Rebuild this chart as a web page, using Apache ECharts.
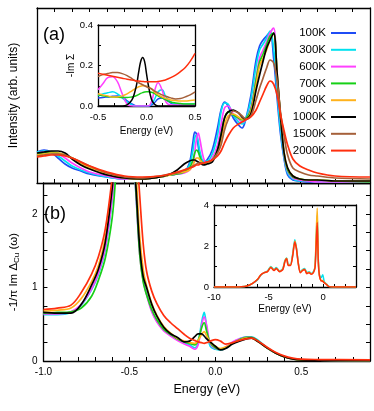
<!DOCTYPE html>
<html><head><meta charset="utf-8">
<script src="https://cdn.jsdelivr.net/npm/echarts@6/dist/echarts.min.js"></script>
<style>html,body{margin:0;padding:0;background:#fff}#c{width:374px;height:411px}</style>
</head><body><div id="c"></div>
<script>
// ---------- DATA ----------
const temps = ['100K','300K','600K','700K','900K','1000K','1500K','2000K'];

// Panel (a): spectral intensity (arb. units) vs energy (eV)
const topEnergy = [-1.0,-0.96,-0.92,-0.88,-0.84,-0.80,-0.75,-0.70,-0.60,-0.50,-0.40,-0.30,-0.24,-0.20,-0.16,-0.13,-0.11,-0.10,-0.09,-0.08,-0.07,-0.05,-0.03,0.0,0.03,0.05,0.07,0.09,0.12,0.15,0.17,0.19,0.22,0.25,0.27,0.29,0.31,0.33,0.35,0.37,0.39,0.41,0.43,0.46,0.50,0.55,0.60,0.70,0.90];
const top100K  = [31,33,31,25,19,15,12,9,6,4, 4,6,8,9,11,20,41,51,49,37, 27,21,23,33,55,73,81,77,65,58, 55,63,87,123,137,143,147,151,125,85, 48,24,8,3,2,1,1,1,1];
const top300K  = [31,32,31,27,22,17,13,10,6,4, 4,6,8,9,11,18,33,45,48,41, 31,22,22,29,48,71,80,79,68,61, 59,63,83,117,133,139,145,152,135,92, 52,26,10,4,2,2,1,1,1];
const top600K  = [30,31,31,29,25,20,15,11,7,4, 4,6,8,9,10,13,18,31,44,50, 43,25,20,25,38,58,75,77,69,64, 61,63,75,105,125,133,141,150,155,105, 62,28,12,5,3,2,1,1,1];
const top700K  = [29,30,31,30,28,25,20,15,9,5, 4,6,8,9,11,15,23,30,33,31, 26,19,20,23,33,48,65,71,68,65, 63,64,73,103,121,129,138,147,150,108, 64,29,13,6,4,3,3,2,1];
const top900K  = [28,29,30,30,28,25,20,15,9,5, 4,6,8,10,11,13,18,22,25,25, 23,20,20,23,31,43,58,67,69,66, 64,64,71,98,117,125,133,143,149,110, 66,31,15,7,4,3,3,2,2];
const top1000K = [30,31,32,32,30,24,18,14,8,5, 4,6,9,13,19,22,23,23,22,21, 20,18,19,21,33,48,65,71,73,70, 66,64,69,93,108,122,135,143,150,110, 66,30,15,7,4,3,3,2,2];
const top1500K = [27,28,29,29,28,25,21,17,10,6, 5,7,9,10,13,15,17,18,19,20, 20,20,21,23,30,38,53,63,72,70, 67,64,67,83,95,105,115,123,120,102, 70,47,28,15,11,8,7,5,4];
const top2000K = [26,27,28,28,27,25,21,17,11,7, 6,7,9,11,13,15,16,17,18,18, 19,20,21,23,27,32,40,47,55,59, 61,63,66,73,81,89,97,102,99,88, 68,52,38,24,17,13,10,7,6];

// Panel (b): -1/pi Im Delta_Cu(omega)
const botEnergy = [-1.0,-0.92,-0.84,-0.78,-0.72,-0.68,-0.64,-0.60,-0.58,-0.56,-0.54,-0.52,-0.50,-0.48,-0.46,-0.44,-0.42,-0.40,-0.37,-0.34,-0.30,-0.26,-0.22,-0.18,-0.15,-0.12,-0.10,-0.08,-0.065,-0.05,-0.03,0.0,0.03,0.06,0.10,0.14,0.18,0.21,0.25,0.30,0.35,0.40,0.45,0.50,0.60,0.90];
const bot300K  = [0.63,0.63,0.66,0.76,0.97,1.18,1.52,2.2,2.8,3.4, 4.2,4.5,4.0,3.0,2.2,1.5,1.12,0.92,0.68,0.54, 0.42,0.35,0.30,0.25,0.22,0.18,0.25,0.52,0.66,0.45, 0.20,0.16,0.15,0.18,0.25,0.30,0.33,0.33,0.28,0.18, 0.11,0.06,0.03,0.015,0.01,0.005];
const bot600K  = [0.64,0.64,0.67,0.77,0.98,1.20,1.55,2.22,2.8,3.4, 4.2,4.5,4.0,3.0,2.2,1.45,1.1,0.9,0.67,0.53, 0.41,0.34,0.28,0.23,0.20,0.16,0.22,0.48,0.60,0.48, 0.24,0.17,0.16,0.19,0.26,0.30,0.32,0.32,0.27,0.18, 0.11,0.06,0.03,0.015,0.01,0.005];
const bot700K  = [0.65,0.66,0.67,0.72,0.88,1.10,1.40,1.95,2.5,3.2, 4.0,4.4,4.0,3.0,2.25,1.45,1.08,0.9,0.70,0.56, 0.43,0.36,0.30,0.26,0.24,0.22,0.28,0.45,0.52,0.40, 0.25,0.18,0.16,0.18,0.24,0.29,0.32,0.32,0.27,0.18, 0.11,0.06,0.03,0.015,0.01,0.005];
const bot900K  = [0.68,0.69,0.72,0.85,1.08,1.30,1.68,2.38,2.9,3.5, 4.1,4.4,4.0,3.1,2.5,1.7,1.25,1.02,0.78,0.62, 0.47,0.38,0.31,0.27,0.25,0.24,0.28,0.36,0.40,0.34, 0.26,0.20,0.17,0.19,0.24,0.28,0.31,0.31,0.26,0.18, 0.11,0.06,0.03,0.015,0.01,0.005];
const bot1000K = [0.66,0.65,0.65,0.77,1.03,1.25,1.62,2.35,2.9,3.5, 4.2,4.5,4.0,3.0,2.3,1.55,1.15,1.0,0.77,0.61, 0.46,0.37,0.32,0.26,0.27,0.33,0.37,0.37,0.34,0.30, 0.26,0.20,0.15,0.17,0.23,0.27,0.30,0.31,0.26,0.18, 0.11,0.06,0.03,0.015,0.01,0.005];
const bot2000K = [0.70,0.72,0.76,0.93,1.18,1.42,1.80,2.5,3.0,3.5, 4.0,4.3,4.0,3.3,2.9,2.25,1.6,1.22,0.95,0.78, 0.62,0.52,0.44,0.36,0.31,0.28,0.26,0.25,0.24,0.25, 0.27,0.29,0.27,0.23,0.25,0.28,0.30,0.31,0.27,0.19, 0.12,0.07,0.04,0.025,0.02,0.015];

// Inset of (a): -Im Sigma
const sigEnergy = [-0.5,-0.45,-0.4,-0.35,-0.3,-0.25,-0.2,-0.15,-0.12,-0.1,-0.08,-0.06,-0.04,-0.02,0,0.02,0.05,0.08,0.12,0.16,0.2,0.25,0.3,0.35,0.4,0.45,0.5];
const sig100K  = [0.04,0.042,0.045,0.048,0.05,0.045,0.025,0.01,0.003,0,0,0,0,0,0,0,0.005,0.015,0.035,0.04,0.03,0.015,0.008,0.005,0.005,0.005,0.005];
const sig300K  = [0.05,0.06,0.065,0.07,0.06,0.04,0.02,0.005,0,0,0,0,0,0,0,0,0.01,0.03,0.07,0.08,0.045,0.02,0.01,0.01,0.01,0.01,0.01];
const sig600K  = [0.08,0.11,0.14,0.145,0.12,0.06,0.01,0,0,0,0,0,0,0,0,0,0.02,0.07,0.115,0.08,0.02,0.005,0.005,0.005,0.005,0.005,0.005];
const sig700K  = [0.055,0.05,0.047,0.045,0.043,0.042,0.042,0.045,0.048,0.052,0.057,0.062,0.066,0.069,0.07,0.07,0.068,0.063,0.05,0.04,0.03,0.02,0.015,0.012,0.01,0.01,0.01];
const sig900K  = [0.06,0.055,0.05,0.045,0.045,0.05,0.06,0.075,0.085,0.09,0.095,0.098,0.1,0.1,0.098,0.094,0.085,0.07,0.055,0.045,0.037,0.03,0.027,0.025,0.025,0.027,0.03];
const sig1000K = [0,0,0,0,0,0,0.005,0.03,0.07,0.11,0.17,0.22,0.24,0.22,0.16,0.1,0.035,0.01,0,0,0,0,0,0,0,0,0];
const sig1500K = [0.145,0.155,0.16,0.165,0.165,0.16,0.15,0.135,0.125,0.12,0.115,0.11,0.105,0.1,0.095,0.09,0.085,0.075,0.065,0.055,0.048,0.04,0.035,0.037,0.045,0.055,0.07];
const sig2000K = [0.162,0.157,0.152,0.147,0.142,0.137,0.132,0.128,0.126,0.124,0.123,0.122,0.121,0.12,0.12,0.12,0.12,0.12,0.121,0.125,0.13,0.14,0.153,0.17,0.19,0.22,0.26];

// Inset of (b): wide-range hybridization
const wideEnergy = [-10,-8,-7.5,-7,-6.5,-6,-5.7,-5.4,-5.1,-4.8,-4.5,-4.3,-4.0,-3.7,-3.5,-3.35,-3.2,-3.0,-2.8,-2.6,-2.45,-2.3,-2.1,-1.9,-1.7,-1.5,-1.3,-1.1,-0.9,-0.75,-0.65,-0.55,-0.45,-0.35,-0.2,-0.05,0.1,0.3,0.5,1,3];
const wide300K  = [0,0,0.01,0.05,0.16,0.36,0.58,0.7,0.78,1.0, 0.85,0.95,0.78,0.9,1.3,1.42,1.1,1.1,1.6,2.3, 1.9,1.25,0.75,0.85,0.9,0.7,0.75,0.66,0.75,1.0, 2.3,3.5,1.35,0.6,0.45,0.6,0.25,0.15,0.03,0,0];
const wide900K  = [0,0,0.01,0.05,0.17,0.38,0.6,0.7,0.76,0.97, 0.82,0.92,0.76,0.87,1.28,1.4,1.07,1.07,1.55,2.25, 1.88,1.22,0.72,0.82,0.87,0.67,0.72,0.64,0.72,1.0, 2.5,3.85,1.3,0.58,0.32,0.32,0.22,0.13,0.03,0,0];
const wide2000K = [0,0,0.01,0.05,0.17,0.38,0.6,0.7,0.75,0.95, 0.8,0.9,0.75,0.85,1.25,1.38,1.05,1.05,1.5,2.2, 1.85,1.2,0.7,0.8,0.85,0.65,0.7,0.62,0.7,0.95, 2.0,3.15,1.2,0.55,0.3,0.28,0.2,0.12,0.02,0,0];

// ---------- STYLE ----------
const colorOf = {'100K':'#1f4cf5','300K':'#00e1ef','600K':'#ff40ff','700K':'#16d016','900K':'#ffb21c','1000K':'#000000','1500K':'#a5603a','2000K':'#ff2f0e'};
const FONT = '"Liberation Sans", Arial, sans-serif';
const pair = (xs, ys) => xs.map((x, i) => [x, ys[i]]);
const tidy = v => (Math.abs(v) < 1e-9 ? 0 : v);
const onMultiple = (v, m) => Math.abs(v / m - Math.round(v / m)) < 1e-6;

function ax(gridIndex, position, min, max, interval, extra) {
  return Object.assign({
    type: 'value', gridIndex, position, min, max, interval,
    axisLine: {show: true, onZero: false, lineStyle: {color: '#000', width: 1.3}},
    axisTick: {show: true, inside: true, length: 4, lineStyle: {color: '#000', width: 1}},
    axisLabel: {show: false},
    splitLine: {show: false}
  }, extra || {});
}
const lbl = (fmt, size, margin) => ({show: true, color: '#000', fontFamily: FONT, fontSize: size, margin, formatter: fmt, showMinLabel: true, showMaxLabel: true});
const smallTick = {show: true, inside: true, length: 3, lineStyle: {color: '#000'}};

const series = [];
function addLine(name, xs, ys, xi, yi, width, smooth) {
  series.push({type: 'line', name, xAxisIndex: xi, yAxisIndex: yi, data: pair(xs, ys),
    symbol: 'none', smooth, clip: true, animation: false,
    lineStyle: {color: colorOf[name], width}, itemStyle: {color: colorOf[name]}});
}
const topSets = [top100K, top300K, top600K, top700K, top900K, top1000K, top1500K, top2000K];
temps.forEach((t, i) => addLine(t, topEnergy, topSets[i], 0, 0, 1.7, 0.35));
const botSets = {'300K': bot300K, '600K': bot600K, '700K': bot700K, '900K': bot900K, '1000K': bot1000K, '2000K': bot2000K};
Object.keys(botSets).forEach(t => addLine(t, botEnergy, botSets[t], 2, 2, 1.7, 0.35));
const sigSets = [sig100K, sig300K, sig600K, sig700K, sig900K, sig1000K, sig1500K, sig2000K];
temps.forEach((t, i) => addLine(t, sigEnergy, sigSets[i], 4, 4, 1.5, 0.4));
addLine('300K', wideEnergy, wide300K, 6, 6, 1.5, 0.25);
addLine('900K', wideEnergy, wide900K, 6, 6, 1.5, 0.25);
addLine('2000K', wideEnergy, wide2000K, 6, 6, 1.5, 0.25);

const fmtHalf = v => onMultiple(v, 0.5) ? tidy(v).toFixed(1) : '';
const nameStyle = size => ({color: '#000', fontFamily: FONT, fontSize: size});

const option = {
  backgroundColor: '#fff',
  animation: false,
  grid: [
    {left: 34, top: 8, width: 336, height: 175},
    {left: 34, top: 183, width: 336, height: 178},
    {left: 98, top: 25, width: 97, height: 81, show: true, backgroundColor: '#fff', borderWidth: 0},
    {left: 214, top: 205, width: 142, height: 82, show: true, backgroundColor: '#fff', borderWidth: 0}
  ],
  xAxis: [
    ax(0, 'bottom', -1.0, 0.9, 0.1),
    ax(0, 'top', -1.0, 0.9, 0.1),
    ax(1, 'bottom', -1.0, 0.9, 0.1, {axisLabel: lbl(fmtHalf, 10, 6), name: 'Energy (eV)', nameLocation: 'middle', nameGap: 22, nameTextStyle: nameStyle(12.5)}),
    ax(1, 'top', -1.0, 0.9, 0.1),
    ax(2, 'bottom', -0.5, 0.5, 1/6, {axisTick: smallTick, axisLabel: lbl(fmtHalf, 9.5, 6), name: 'Energy (eV)', nameLocation: 'middle', nameGap: 20, nameTextStyle: nameStyle(10)}),
    ax(2, 'top', -0.5, 0.5, 1/6, {axisTick: smallTick}),
    ax(3, 'bottom', -10, 3, 1, {axisTick: smallTick, axisLabel: lbl(v => onMultiple(v, 5) ? String(tidy(v)) : '', 9.5, 5), name: 'Energy (eV)', nameLocation: 'middle', nameGap: 17, nameTextStyle: nameStyle(10)}),
    ax(3, 'top', -10, 3, 1, {axisTick: smallTick})
  ],
  yAxis: [
    ax(0, 'left', 0, 175, 25, {axisTick: {show: false}, name: 'Intensity (arb. units)', nameLocation: 'middle', nameRotate: 90, nameGap: 17, nameTextStyle: nameStyle(12)}),
    ax(0, 'right', 0, 175, 25, {axisTick: {show: false}}),
    ax(1, 'left', 0, 2.42, 0.25, {axisLabel: lbl(v => onMultiple(v, 1) ? String(Math.round(v)) : '', 10, 6),
      name: '-1/π Im Δ{s|Cu} (ω)', nameLocation: 'middle', nameRotate: 90, nameGap: 16,
      nameTextStyle: {color: '#000', fontFamily: FONT, fontSize: 11.5, rich: {s: {fontSize: 8, fontFamily: FONT, color: '#000', padding: [6, 0, 0, 0]}}}}),
    ax(1, 'right', 0, 2.42, 0.25),
    ax(2, 'left', 0, 0.4, 0.1, {axisTick: smallTick, axisLabel: lbl(v => onMultiple(v, 0.2) ? tidy(v).toFixed(1) : '', 9.5, 5),
      name: '-Im Σ', nameLocation: 'middle', nameRotate: 90, nameGap: 22, nameTextStyle: nameStyle(10)}),
    ax(2, 'right', 0, 0.4, 0.1, {axisTick: smallTick}),
    ax(3, 'left', 0, 4, 1, {axisTick: smallTick, axisLabel: lbl(v => onMultiple(v, 2) ? String(Math.round(v)) : '', 9.5, 5)}),
    ax(3, 'right', 0, 4, 1, {axisTick: smallTick})
  ],
  legend: {
    data: temps.map(t => ({name: t, icon: 'rect', itemStyle: {color: colorOf[t]}})),
    orient: 'vertical', right: 13, top: 22, align: 'right',
    itemWidth: 25, itemHeight: 2, itemGap: 4.8, selectedMode: false,
    textStyle: {fontFamily: FONT, fontSize: 11.5, color: '#000', lineHeight: 12}
  },
  graphic: [
    {type: 'text', left: 43, top: 26, style: {text: '(a)', font: '18px ' + FONT, fill: '#000'}},
    {type: 'text', left: 44, top: 205, style: {text: '(b)', font: '18px ' + FONT, fill: '#000'}}
  ],
  series
};
const chart = echarts.init(document.getElementById('c'), null, {renderer: 'canvas'});
chart.setOption(option);
</script>
</body></html>
